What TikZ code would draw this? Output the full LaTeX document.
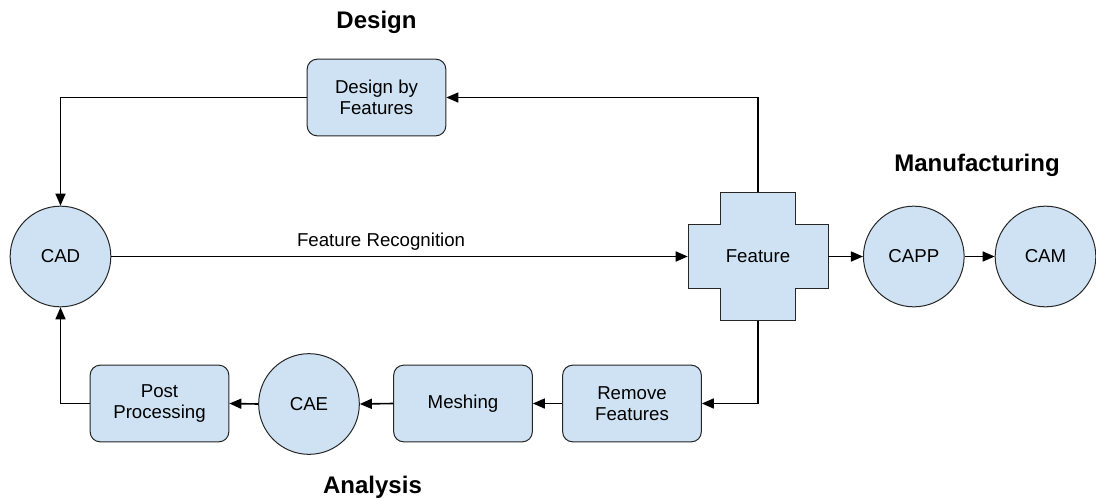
\documentclass[tikz,border=0pt]{standalone}
\usepackage{fontspec}
\setmainfont{Liberation Sans}
\usetikzlibrary{arrows.meta}
\definecolor{boxblue}{HTML}{CFE2F3}

\begin{document}
\begin{tikzpicture}[x=0.75pt, y=-0.75pt,
  txt/.style={font=\fontsize{14}{16}\selectfont, align=center},
  head/.style={font=\fontsize{18}{20}\selectfont\bfseries},
  rbox/.style={txt, draw=black!85, fill=boxblue, line width=0.75pt, rounded corners=7.5pt,
    minimum width=104pt, minimum height=57.5pt, inner sep=0pt},
  bubble/.style={txt, circle, draw=black!85, fill=boxblue, line width=0.75pt,
    minimum size=75.5pt, inner sep=0pt},
  link/.style={line width=1.2pt, -{Triangle[length=9pt,width=7.5pt]}},
  wire/.style={line width=1.2pt}]
  \useasboundingbox (0,0) rectangle (1096,500);

  \node[head] (DL) at (376.5, 22) {Design};
  \node[head] (ML) at (977, 165) {Manufacturing};
  \node[head] (AL) at (372.5, 487) {Analysis};

  \node[rbox] (dbf) at (376.5, 97.5) {Design by\\Features};
  \node[bubble] (cad) at (60.5, 256.5) {CAD};

  \coordinate (fc) at (758, 256.5);
  \draw[draw=black!85, fill=boxblue, line width=0.75pt] (fc) ++(-37.5,-64) -- ++(75,0) -- ++(0,32)
    -- ++(32.5,0) -- ++(0,64) -- ++(-32.5,0) -- ++(0,32) -- ++(-75,0) -- ++(0,-32)
    -- ++(-32.5,0) -- ++(0,-64) -- ++(32.5,0) -- cycle;
  \node[txt, minimum width=105pt, minimum height=96pt, inner sep=0pt] (feat) at (fc) {Feature};

  \node[bubble] (capp) at (913.8, 256.5) {CAPP};
  \node[bubble] (cam) at (1045.5, 256.5) {CAM};

  \node[rbox] (post) at (159.5, 403.5) {Post\\Processing};
  \node[bubble] (cae) at (309, 404) {CAE};
  \node[rbox] (mesh) at (463, 403.5) {Meshing};
  \node[rbox] (remf) at (632, 403.5) {Remove\\Features};

  \draw[link] (feat.north) |- (dbf.east);
  \draw[link] (dbf.west) -| (cad.north);
  \draw[link] (cad.east) -- node[txt, pos=0.468, above=1pt] {Feature Recognition} (feat.west);
  \draw[link] (feat.east) -- (capp.west);
  \draw[link] (capp.east) -- (cam.west);
  \draw[link] (feat.south) |- (remf.east);
  \draw[link] (remf.west) -- (mesh.east);
  \draw[link] (mesh.west) -- (cae.east);
  \draw[link] (cae.west) -- (post.east);
  \draw[link] (post.west) -| (cad.south);
\end{tikzpicture}
\end{document}
